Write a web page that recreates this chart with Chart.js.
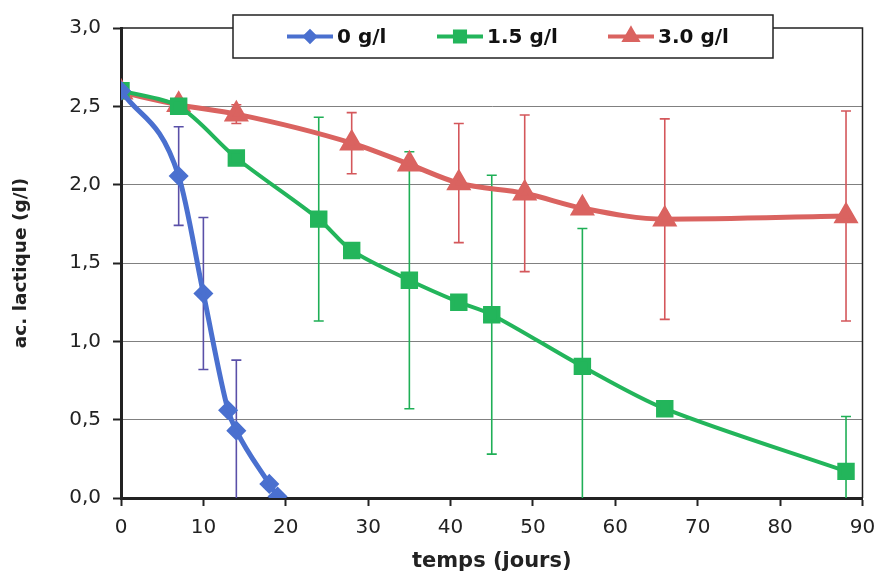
<!DOCTYPE html>
<html>
<head>
<meta charset="utf-8">
<script src="https://cdn.jsdelivr.net/npm/chart.js@4.4.1/dist/chart.umd.min.js"></script>
<style>
  html, body { margin: 0; padding: 0; background: #fff; }
</style>
</head>
<body>
<canvas id="myChart" width="877" height="571"></canvas>
<script>
// Data
const labels = ['0 g/l', '1.5 g/l', '3.0 g/l'];

const daysA = [0, 7, 10, 13, 14, 18, 19];
const acidA = [2.60, 2.055, 1.305, 0.56, 0.43, 0.09, 0.01];
const errA = [null, 0.315, 0.485, null, 0.45, null, null];

const daysB = [0, 7, 14, 24, 28, 35, 41, 45, 56, 66, 88];
const acidB = [2.60, 2.50, 2.17, 1.78, 1.58, 1.39, 1.25, 1.17, 0.84, 0.57, 0.17];
const errB = [null, null, null, 0.65, null, 0.82, null, 0.89, 0.88, null, 0.35];

const daysC = [0, 7, 14, 28, 35, 41, 49, 56, 66, 88];
const acidC = [2.59, 2.51, 2.45, 2.265, 2.13, 2.01, 1.945, 1.85, 1.78, 1.80];
const errC = [null, null, 0.06, 0.195, null, 0.38, 0.5, null, 0.64, 0.67];

const yTicks = [0, 0.5, 1, 1.5, 2, 2.5, 3];

// the scan is wide, DejaVu matches its text widths best
const FONT = "'DejaVu Sans', sans-serif";

const pts = (xs, ys) => xs.map((x, i) => ({ x, y: ys[i] }));

// error bars drawn under the lines
const errorBars = {
  id: 'errorBars',
  beforeDatasetsDraw(chart) {
    const { ctx, chartArea, scales: { x, y } } = chart;
    ctx.save();
    ctx.beginPath();
    ctx.rect(chartArea.left, chartArea.top - 2, chartArea.right - chartArea.left, chartArea.bottom - chartArea.top + 2);
    ctx.clip();
    chart.data.datasets.forEach((ds) => {
      ctx.strokeStyle = ds.errColor;
      ctx.lineWidth = 1.6;
      ds.data.forEach((p, i) => {
        const e = ds.err[i];
        if (e == null) return;
        const px = x.getPixelForValue(p.x);
        const top = y.getPixelForValue(p.y + e);
        const bot = y.getPixelForValue(Math.max(0, p.y - e));
        ctx.beginPath();
        ctx.moveTo(px, top);
        ctx.lineTo(px, bot);
        ctx.moveTo(px - 5, top);
        ctx.lineTo(px + 5, top);
        if (p.y - e > 0) {
          ctx.moveTo(px - 5, bot);
          ctx.lineTo(px + 5, bot);
        }
        ctx.stroke();
      });
    });
    ctx.restore();
  },
};

// top and right border of the plot box
const frame = {
  id: 'frame',
  beforeDatasetsDraw(chart) {
    const { ctx, chartArea: a } = chart;
    ctx.save();
    ctx.strokeStyle = '#222';
    ctx.lineWidth = 1.5;
    ctx.beginPath();
    ctx.moveTo(a.left, a.top);
    ctx.lineTo(a.right, a.top);
    ctx.lineTo(a.right, a.bottom);
    ctx.stroke();
    ctx.restore();
  },
};

// boxed legend sitting over the top edge of the plot
const boxLegend = {
  id: 'boxLegend',
  afterDraw(chart) {
    const { ctx } = chart;
    const bx = 233, by = 15, bw = 540, bh = 43;
    ctx.save();
    ctx.fillStyle = '#fff';
    ctx.fillRect(bx, by, bw, bh);
    ctx.strokeStyle = '#222';
    ctx.lineWidth = 1.5;
    ctx.strokeRect(bx, by, bw, bh);
    const starts = [287, 437, 608];
    const cy = by + bh / 2;
    chart.data.datasets.forEach((ds, i) => {
      const x0 = starts[i];
      ctx.strokeStyle = ds.borderColor;
      ctx.lineWidth = 4;
      ctx.beginPath();
      ctx.moveTo(x0, cy);
      ctx.lineTo(x0 + 46, cy);
      ctx.stroke();
      Chart.helpers.drawPoint(ctx, {
        pointStyle: ds.pointStyle,
        radius: ds.pointRadius * 0.75,
        borderWidth: 1,
      }, x0 + 23, cy);
      ctx.fillStyle = ds.borderColor;
      ctx.fill();
      ctx.fillStyle = '#111';
      ctx.font = 'bold 20px ' + FONT;
      ctx.textBaseline = 'middle';
      ctx.textAlign = 'left';
      ctx.fillText(ds.label, x0 + 50, cy + 1);
    });
    ctx.restore();
  },
};

const data = {
  datasets: [
    {
      label: labels[0],
      data: pts(daysA, acidA),
      err: errA,
      errColor: '#5a50a8',
      borderColor: '#4a70cf',
      backgroundColor: '#4a70cf',
      borderWidth: 5,
      pointStyle: 'rectRot',
      pointRadius: 6.5,
      cubicInterpolationMode: 'monotone',
    },
    {
      label: labels[1],
      data: pts(daysB, acidB),
      err: errB,
      errColor: '#1faf56',
      borderColor: '#23b55b',
      backgroundColor: '#23b55b',
      borderWidth: 4,
      pointStyle: 'rect',
      pointRadius: 9.5,
      tension: 0.3,
    },
    {
      label: labels[2],
      data: pts(daysC, acidC),
      err: errC,
      errColor: '#d4575b',
      borderColor: '#da6360',
      backgroundColor: '#da6360',
      borderWidth: 5,
      pointStyle: 'triangle',
      pointRadius: 9.5,
      cubicInterpolationMode: 'monotone',
    },
  ],
};

const config = {
  type: 'line',
  data,
  options: {
    responsive: false,
    animation: false,
    devicePixelRatio: 1,
    layout: { padding: { top: 28, right: 14, left: 0, bottom: 0 } },
    plugins: {
      legend: { display: false },
      tooltip: { enabled: false },
    },
    elements: { point: { borderWidth: 1 } },
    scales: {
      x: {
        type: 'linear',
        min: 0,
        max: 90,
        ticks: {
          stepSize: 10,
          color: '#222',
          padding: 10,
          font: { family: FONT, size: 20 },
        },
        grid: {
          drawOnChartArea: false,
          tickLength: 8,
          tickColor: '#222',
          tickWidth: 2,
        },
        border: { color: '#222', width: 3 },
        title: {
          display: true,
          text: 'temps (jours)',
          color: '#222',
          font: { family: FONT, size: 21, weight: 'bold' },
          padding: { top: 0, bottom: -3 },
        },
        afterFit: (s) => {
          s.height = 73;
          s.paddingLeft = 0;
          s.paddingRight = 0;
        },
      },
      y: {
        min: 0,
        max: 3,
        afterBuildTicks: (s) => { s.ticks = yTicks.map((v) => ({ value: v })); },
        ticks: {
          color: '#222',
          padding: 12,
          font: { family: FONT, size: 20 },
          callback: (v) => v.toFixed(1).replace('.', ','),
        },
        grid: {
          color: (c) => (c.tick && (c.tick.value === 0 || c.tick.value === 3) ? 'rgba(0,0,0,0)' : '#808080'),
          lineWidth: 1,
          tickLength: 8,
          tickColor: '#222',
          tickWidth: 2,
        },
        border: { color: '#222', width: 3 },
        title: {
          display: true,
          text: 'ac. lactique (g/l)',
          color: '#222',
          font: { family: FONT, size: 18.5, weight: 'bold' },
          padding: { top: 10, bottom: 0 },
        },
        afterFit: (s) => {
          s.width = 121;
          s.paddingTop = 0;
          s.paddingBottom = 0;
        },
      },
    },
  },
  plugins: [frame, errorBars, boxLegend],
};

const myChart = new Chart(document.getElementById('myChart'), config);
</script>
</body>
</html>
